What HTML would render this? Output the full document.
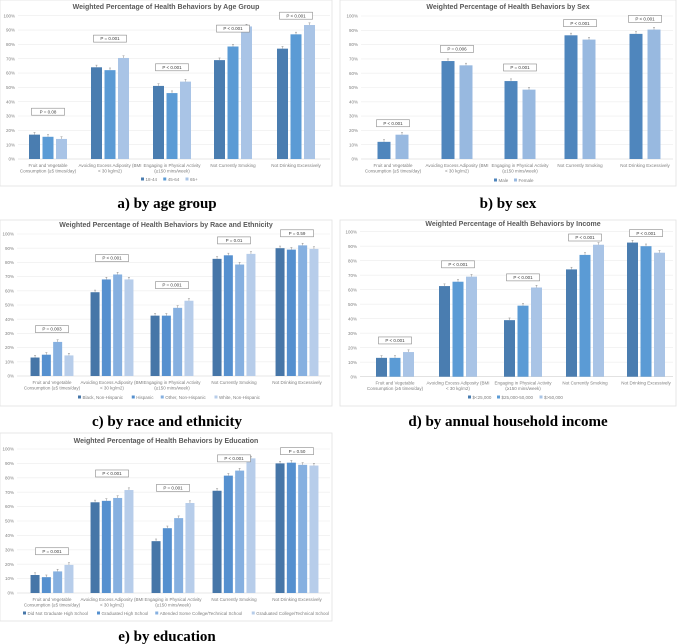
<!DOCTYPE html>
<html><head><meta charset="utf-8"><style>
html,body{margin:0;padding:0;background:#fff;}
svg{display:block;font-family:"Liberation Sans",sans-serif;}
.cap{font-family:"Liberation Serif",serif;font-weight:bold;font-size:15px;fill:#000;}
</style></head><body>
<svg id="fig" width="677" height="644" viewBox="0 0 677 644"></svg>
<script>
// ---- data ----
const categories = [["Fruit and Vegetable","Consumption (≥5 times/day)"],["Avoiding Excess Adiposity (BMI","< 30 kg/m2)"],["Engaging in Physical Activity","(≥150 mins/week)"],["Not Currently Smoking",""],["Not Drinking Excessively",""]];
const ageNames = ["18-44","45-64","65+"];
const age1844 = [17,64,51,69,77];
const age4564 = [15.5,62,46,78.5,87];
const age65 = [14,70.5,54,92.5,93.5];
const ageP = ["P = 0.08","P = 0.001","P < 0.001","P < 0.001","P < 0.001"];
const ageBoxPct = [33,84,64,91,100];
const sexNames = ["Male","Female"];
const sexMale = [12,68.5,54.5,86.5,87.5];
const sexFemale = [17,65.5,48.5,83.5,90.5];
const sexP = ["P < 0.001","P = 0.006","P = 0.001","P < 0.001","P < 0.001"];
const sexBoxPct = [25,77,64,95,98];
const raceNames = ["Black, Non-Hispanic","Hispanic","Other, Non-Hispanic","White, Non-Hispanic"];
const raceBlack = [13,59,42.5,82.5,90];
const raceHisp = [15,68,42.5,85,89];
const raceOther = [24,71.5,48,78.5,92];
const raceWhite = [14.5,68,53,86,89.5];
const raceP = ["P = 0.003","P < 0.001","P = 0.001","P = 0.01","P = 0.59"];
const raceBoxPct = [33,83,64,95.5,100.5];
const incNames = ["$<25,000","$25,000-50,000","$>50,000"];
const incLow = [13,62.5,39,74,92.5];
const incMid = [13,65.5,49,84,90];
const incHigh = [17,69,61.5,91,85.5];
const incP = ["P < 0.001","P < 0.001","P < 0.001","P < 0.001","P < 0.001"];
const incBoxPct = [25,77.5,68.5,96,99];
const eduNames = ["Did Not Graduate High School","Graduated High School","Attended Some College/Technical School","Graduated College/Technical School"];
const eduNone = [12.5,63,36,71,90];
const eduHS = [11,64,45,81.5,90.5];
const eduSome = [15,66,52,85,89];
const eduCollege = [19.5,71.5,62.5,93.5,88.5];
const eduP = ["P = 0.001","P < 0.001","P = 0.001","P < 0.001","P = 0.50"];
const eduBoxPct = [29,83,73,93.5,98.5];
const yTicks = [0,10,20,30,40,50,60,70,80,90,100];

const NS="http://www.w3.org/2000/svg";
const svg=document.getElementById('fig');
function mk(tag,attrs,parent,txt){const e=document.createElementNS(NS,tag);for(const k in attrs)e.setAttribute(k,attrs[k]);if(txt!==undefined)e.textContent=txt;(parent||svg).appendChild(e);return e;}
const C3=["#4a7db0","#5b9bd5","#a9c4e6"];
const C2=["#4f86bd","#98b9e0"];
const C4=["#4676a8","#5590cf","#86b0e0","#b7cdea"];

function panel(cfg){
  const g=mk('g',{});
  
  
  const bb=mk('rect',{x:cfg.box[0],y:cfg.box[1],width:cfg.box[2],height:cfg.box[3],fill:'#fff',stroke:'#e2e2e2','stroke-width':0.8},g);
  
  const t=mk('text',{x:cfg.titleX,y:cfg.titleY,'text-anchor':'middle','font-size':7,'font-weight':'bold',fill:'#595959'},g,cfg.title);
  
  const y=v=>cfg.y0+(cfg.y100-cfg.y0)*v/100;
  yTicks.forEach(v=>{
    const l=mk('line',{x1:cfg.px0,x2:cfg.px1,y1:y(v),y2:y(v),stroke:v===0?'#d0d0d0':'#ececec','stroke-width':0.6},g);
    
    const tl=mk('text',{x:cfg.px0-3,y:y(v)+1.6,'text-anchor':'end','font-size':4.5,fill:'#7f7f7f'},g,v+'%');
    
  });
  const n=cfg.series.length;
  categories.forEach((cat,i)=>{
    const cx=cfg.cx[i];
    let maxTop=1e9;
    cfg.series.forEach((s,j)=>{
      const bx=cx+(j-(n-1)/2)*cfg.step-cfg.bw/2;
      const v=s[i];
      const r=mk('rect',{x:bx,y:y(v),width:cfg.bw,height:y(0)-y(v),fill:cfg.colors[j]},g);
      
      const ex=bx+cfg.bw/2;
      const e=mk('path',{d:`M${ex},${y(v+1.5)}V${y(v)} M${ex-1},${y(v+1.5)}H${ex+1}`,stroke:'#8c8c8c','stroke-width':0.5,fill:'none'},g);
      
    });
    const by=y(cfg.boxPct[i]);
    const bxw=33;
    const pb=mk('rect',{x:cx-bxw/2,y:by-3.5,width:bxw,height:7,fill:'#fff',stroke:'#8a8a8a','stroke-width':0.6},g);
    
    const pt=mk('text',{x:cx,y:by+1.6,'text-anchor':'middle','font-size':4.5,fill:'#404040'},g,cfg.p[i]);
    
    cat.forEach((ln,k)=>{ if(!ln)return;
      const ct=mk('text',{x:cx,y:y(0)+8+k*5.5,'text-anchor':'middle','font-size':4.5,fill:'#7f7f7f'},g,ln);
      
    });
  });
  // legend
  let lx=cfg.legX;
  cfg.names.forEach((nm,j)=>{
    const sw=mk('rect',{x:lx,y:cfg.legY-2.5,width:3,height:3,fill:cfg.colors[j]},g);
    
    const lt=mk('text',{x:lx+4.5,y:cfg.legY+0.8,'font-size':4.5,fill:'#7f7f7f'},g,nm);
    
    lx+=8+nm.length*2.25+3;
  });
  const cp=mk('text',{x:cfg.capX,y:cfg.capY,'text-anchor':'middle',class:'cap'},svg,cfg.caption);
  
}

panel({name:'chart-age',key:'age',box:[0,0,332,186],title:'Weighted Percentage of Health Behaviors by Age Group',titleX:166,titleY:9,
 px0:18,px1:330,y0:159,y100:15.7,cx:[48,110,172,233,296],bw:11,step:13.5,series:[age1844,age4564,age65],colors:C3,names:ageNames,
 p:ageP,boxPct:ageBoxPct,legX:141,legY:180,caption:'a) by age group',capX:167,capY:208});
panel({name:'chart-sex',key:'sex',box:[340,0,336,186],title:'Weighted Percentage of Health Behaviors by Sex',titleX:508,titleY:9,
 px0:361,px1:673,y0:159,y100:16,cx:[393,457,520,580,645],bw:13,step:18,series:[sexMale,sexFemale],colors:C2,names:sexNames,
 p:sexP,boxPct:sexBoxPct,legX:494,legY:181,caption:'b) by sex',capX:508,capY:208});
panel({name:'chart-race',key:'race',box:[0,220,332,186],title:'Weighted Percentage of Health Behaviors by Race and Ethnicity',titleX:166,titleY:227,
 px0:17,px1:330,y0:376,y100:234,cx:[52,112,172,234,297],bw:9,step:11.3,series:[raceBlack,raceHisp,raceOther,raceWhite],colors:C4,names:raceNames,
 p:raceP,boxPct:raceBoxPct,legX:78,legY:398,caption:'c) by race and ethnicity',capX:167,capY:426});
panel({name:'chart-income',key:'inc',box:[340,220,336,186],title:'Weighted Percentage of Health Behaviors by Income',titleX:513,titleY:226,
 px0:360,px1:673,y0:376.7,y100:231.7,cx:[395,458,523,585,646],bw:11,step:13.5,series:[incLow,incMid,incHigh],colors:C3,names:incNames,
 p:incP,boxPct:incBoxPct,legX:468,legY:398,caption:'d) by annual household income',capX:508,capY:426});
panel({name:'chart-education',key:'edu',box:[0,433,332,188],title:'Weighted Percentage of Health Behaviors by Education',titleX:166,titleY:443,
 px0:17,px1:330,y0:593,y100:449,cx:[52,112,173,234,297],bw:9,step:11.3,series:[eduNone,eduHS,eduSome,eduCollege],colors:C4,names:eduNames,
 p:eduP,boxPct:eduBoxPct,legX:23,legY:614,caption:'e) by education',capX:167,capY:641});
</script>
</body></html>
